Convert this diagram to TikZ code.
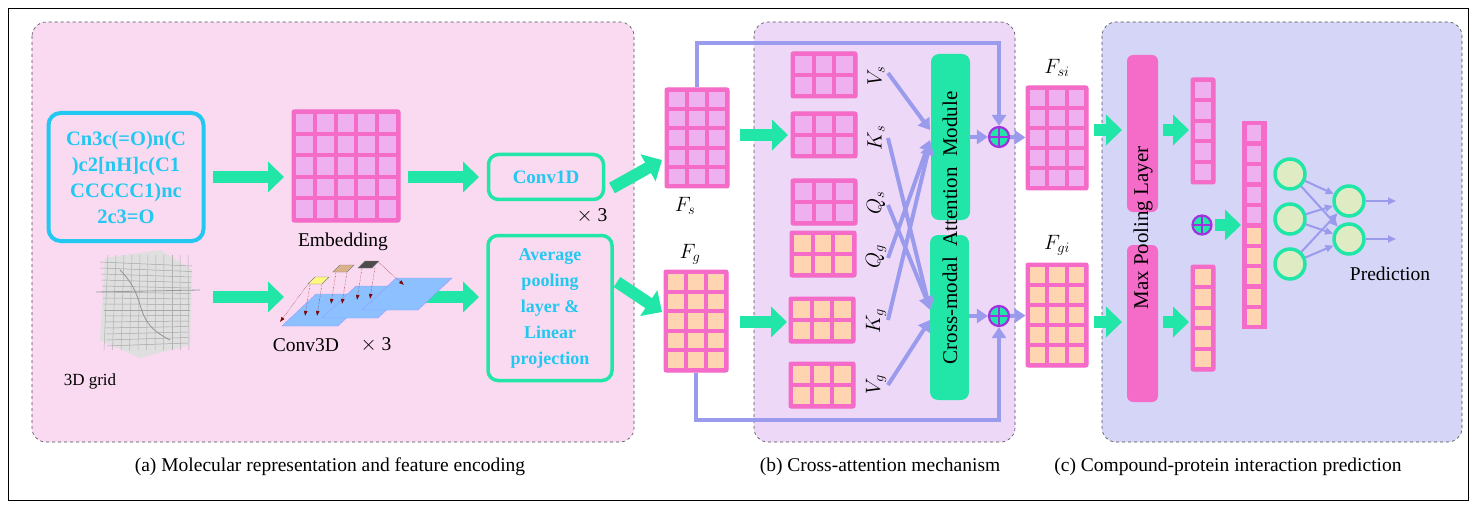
\documentclass[tikz,border=0pt]{standalone}
\usepackage{fontspec}
\setmainfont{Liberation Serif}
\usetikzlibrary{arrows.meta,calc}
\definecolor{grn}{HTML}{22E6A8}
\definecolor{lav}{HTML}{9B9BEE}
\definecolor{pkb}{HTML}{F46CC8}
\definecolor{pkc}{HTML}{EEB0EE}
\definecolor{pch}{HTML}{FFD4B0}
\definecolor{cyn}{HTML}{22C8F0}
\definecolor{pa}{HTML}{F9DAF0}
\definecolor{pb}{HTML}{EDD9F7}
\definecolor{pc}{HTML}{D5D5F7}
\definecolor{opl}{HTML}{A030E0}
\definecolor{nrn}{HTML}{DFEBC2}
\tikzset{
 panel/.style={draw=black!70,dashed,line width=0.6pt,rounded corners=14pt},
 fat/.style={draw=grn,line width=12pt,-{Triangle[length=16pt,width=30pt]}},
 lav/.style={draw=lav,line width=4pt,-{Triangle[length=11pt,width=14pt]}},
 thinlav/.style={draw=lav,line width=2pt,-{Triangle[length=8pt,width=7pt]}},
 tbox/.style={draw=grn,line width=3.5pt,rounded corners=10pt,text=cyn,font=\fontsize{19}{23}\selectfont\bfseries,align=center},
 op/.style={circle,draw=opl,fill=grn,line width=2.2pt,minimum size=20pt,inner sep=0pt,path picture={\draw[opl,line width=2.2pt](path picture bounding box.north)--(path picture bounding box.south)(path picture bounding box.west)--(path picture bounding box.east);}},
 lab/.style={font=\fontsize{19.5}{22}\selectfont},
 mlab/.style={font=\fontsize{22}{24}\selectfont},
 neuron/.style={circle,draw=grn,fill=nrn,line width=3.5pt,minimum size=30pt,inner sep=0pt},
 bar/.style={fill=pkb,rounded corners=6pt,draw=none},
 mod/.style={fill=grn,rounded corners=8pt,draw=none},
}
% name, cx, cy, w, h, cols, rows, cellcolor
\newcommand\mgrid[8]{%
 \node[draw=pkb,fill=pkb,line width=1pt,minimum width=#4pt,minimum height=#5pt,inner sep=0pt,rounded corners=2pt] (#1) at (#2,#3) {};
 \foreach \i in {1,...,#6}{\foreach \j in {1,...,#7}{%
  \pgfmathsetmacro\cw{(#4-4*(#6+1))/#6}\pgfmathsetmacro\ch{(#5-4*(#7+1))/#7}%
  \pgfmathsetmacro\xx{#2-#4/2+4*\i+\cw*(\i-1)}\pgfmathsetmacro\yy{#3-#5/2+4*\j+\ch*(\j-1)}%
  \fill[#8] (\xx,\yy) rectangle ++(\cw,\ch);}}}
\begin{document}
\begin{tikzpicture}[x=1pt,y=-1pt]
\useasboundingbox (0,0) rectangle (1476,508);
\draw[black,line width=0.8pt] (8,8) rectangle (1468,500);
\fill[pa,panel] (32,22) rectangle (634,442);
\fill[pb,panel] (754,22) rectangle (1015,442);
\fill[pc,panel] (1102,22) rectangle (1462,442);
\node[lab] (ca) at (330,467) {(a) Molecular representation and feature encoding};
\node[lab] (cb) at (880,467) {(b) Cross-attention mechanism};
\node[lab] (cc) at (1228,467) {(c) Compound-protein interaction prediction};
% panel a
\node[draw=cyn,line width=4pt,rounded corners=12pt,minimum width=155pt,minimum height=128pt,text=cyn,font=\fontsize{20.5}{26}\selectfont\bfseries,align=center,inner sep=2pt] (smi) at (126,177) {Cn3c(=O)n(C\\)c2[nH]c(C1\\CCCCC1)nc\\2c3=O};
\mgrid{emb}{346}{166}{108}{112}{5}{5}{pkc}
\node[lab] (embl) at (343,242) {Embedding};
\node[tbox,minimum width=115pt,minimum height=45pt] (c1d) at (546,177) {Conv1D};
\node[lab] (x3a) at (592,216) {$\times$ 3};
\node[tbox,minimum width=124pt,minimum height=145pt,font=\fontsize{18}{26}\selectfont\bfseries] (avg) at (550,308) {Average\\pooling\\layer \&\\Linear\\projection};
\draw[fat] (213,177) -- (284,177);
\draw[fat] (408,177) -- (479,177);
\draw[fat] (213,297) -- (284,297);
\draw[fat] (408,297) -- (479,297);
\draw[fat] (612,188) -- (662,160);
\draw[fat] (617,282) -- (662,312);
% 3D grid
\begin{scope}
\fill[gray!25] (105,258) -- (160,250) -- (192,270) -- (190,345) -- (140,358) -- (100,340) -- cycle;
\foreach \k in {0,...,14}{\draw[gray!70,line width=0.5pt] (100+\k*0.5,262+\k*6) -- (192-\k*0.3,266+\k*5.5);}
\foreach \k in {0,...,10}{\draw[gray!60,line width=0.5pt] (108+\k*8,255) -- (104+\k*8.5,350);}
\draw[gray!80,line width=0.8pt] (96,292) -- (200,290);
\draw[gray!85,line width=0.8pt] (120,270) .. controls (150,300) and (130,320) .. (170,340);
\end{scope}
\node[lab,font=\fontsize{17}{20}\selectfont] (g3) at (90,381) {3D grid};
% conv3d
\foreach \o in {0,40,80}{
 \fill[blue!55!cyan!45!white,draw=blue!40] (282+\o,326-\o*0.2) -- (338+\o,326-\o*0.2) -- (372+\o,294-\o*0.2) -- (316+\o,294-\o*0.2) -- cycle;}
\fill[yellow!50,draw=gray] (308,284) -- (322,284) -- (329,277) -- (315,277) -- cycle;
\fill[brown!60,draw=gray] (333,272) -- (347,272) -- (354,265) -- (340,265) -- cycle;
\fill[black!70,draw=gray] (358,268) -- (372,268) -- (379,261) -- (365,261) -- cycle;
\foreach \a/\b in {310/284,322/284,336/272,347/272,362/268,375/267}{\draw[densely dotted,red!50!black,-{Latex[length=5pt]}] (\a,\b) -- (\a-5,\b+32);}
\draw[densely dotted,red!50!black,-{Latex[length=5pt]}] (308,284) -- (280,322);
\draw[densely dotted,red!50!black,-{Latex[length=5pt]}] (378,262) -- (404,285);
\node[lab] (c3d) at (306,345) {Conv3D};
\node[lab] (x3b) at (376,345) {$\times$ 3};
% Fs Fg
\mgrid{fs}{697}{138}{64}{100}{3}{5}{pkc}
\mgrid{fg}{696}{321}{64}{102}{3}{5}{pch}
\node[mlab] (fsl) at (685,206) {$F_s$};
\node[mlab] (fgl) at (690,254) {$F_g$};
% panel b
\mgrid{vs}{824}{75}{66}{46}{3}{2}{pkc}
\mgrid{ks}{824}{135}{66}{46}{3}{2}{pkc}
\mgrid{qs}{824}{202}{66}{46}{3}{2}{pkc}
\mgrid{qg}{823}{254}{66}{46}{3}{2}{pch}
\mgrid{kg}{822}{320}{66}{46}{3}{2}{pch}
\mgrid{vg}{822}{385}{66}{46}{3}{2}{pch}
\draw[fat] (740,135) -- (788,135);
\draw[fat] (740,322) -- (787,322);
\node[mlab,rotate=90] (lvs) at (876,76) {$V_s$};
\node[mlab,rotate=90] (lks) at (876,138) {$K_s$};
\node[mlab,rotate=90] (lqs) at (876,203) {$Q_s$};
\node[mlab,rotate=90] (lqg) at (876,257) {$Q_g$};
\node[mlab,rotate=90] (lkg) at (876,321) {$K_g$};
\node[mlab,rotate=90] (lvg) at (876,385) {$V_g$};
\fill[mod] (931,54) rectangle (970,220);
\fill[mod] (930,235) rectangle (969,400);
\node[rotate=90,font=\fontsize{21}{24}\selectfont] (cam) at (950,228) {Cross-modal\ \ Attention\ \ Module};
\draw[lav] (888,73) -- (930,130);
\draw[lav] (888,138) -- (930,310);
\draw[lav] (888,205) -- (930,308);
\draw[lav] (888,258) -- (930,140);
\draw[lav] (888,320) -- (930,144);
\draw[lav] (888,385) -- (930,320);
\node[op] (o1) at (999,137) {};
\node[op] (o2) at (999,316) {};
\draw[lav] (970,137) -- (o1);
\draw[lav] (969,316) -- (o2);
\draw[lav] (fs.north) |- (999,43) -- (o1);
\draw[lav] (fg.south) |- (999,420) -- (o2);
\mgrid{fsi}{1057}{138}{62}{104}{3}{5}{pkc}
\mgrid{fgi}{1057}{315}{62}{104}{3}{5}{pch}
\draw[lav] (o1) -- (fsi);
\draw[lav] (o2) -- (fgi);
\node[mlab] (fsil) at (1057,68) {$F_{si}$};
\node[mlab] (fgil) at (1057,245) {$F_{gi}$};
% panel c
\draw[fat] (1094,130) -- (1122,130);
\draw[fat] (1094,322) -- (1122,322);
\fill[bar] (1127,55) rectangle (1158,212);
\fill[bar] (1127,245) rectangle (1158,402);
\node[rotate=90,font=\fontsize{21}{24}\selectfont] (mpl) at (1143,228) {Max Pooling Layer};
\draw[fat] (1163,130) -- (1189,130);
\draw[fat] (1163,322) -- (1189,322);
\mgrid{vu}{1203}{131}{24}{106}{1}{5}{pkc}
\mgrid{vl}{1203}{318}{24}{106}{1}{5}{pch}
\node[op,minimum size=19pt] (o3) at (1202,225) {};
\draw[fat] (1215,225) -- (1241,225);
\node[draw=pkb,fill=pkb,minimum width=24pt,minimum height=207pt,inner sep=0pt] (cv) at (1254,225) {};
\foreach \j in {0,...,9}{\pgfmathsetmacro\yy{125.5+\j*20.4}
 \ifnum\j<5 \fill[pkc] (1247,\yy) rectangle ++(14,16);\else \fill[pch] (1247,\yy) rectangle ++(14,16);\fi}
\node[neuron] (n1) at (1290,174) {};
\node[neuron] (n2) at (1290,219) {};
\node[neuron] (n3) at (1290,264) {};
\node[neuron] (m1) at (1349,201) {};
\node[neuron] (m2) at (1349,239) {};
\foreach \a in {n1,n2,n3}{\foreach \b in {m1,m2}{\draw[thinlav] (\a) -- (\b);}}
\coordinate (p1) at (1396,201); \coordinate (p2) at (1396,239);
\draw[thinlav] (m1) -- (p1);
\draw[thinlav] (m2) -- (p2);
\node[lab] (pred) at (1390,274) {Prediction};
\end{tikzpicture}
\end{document}
